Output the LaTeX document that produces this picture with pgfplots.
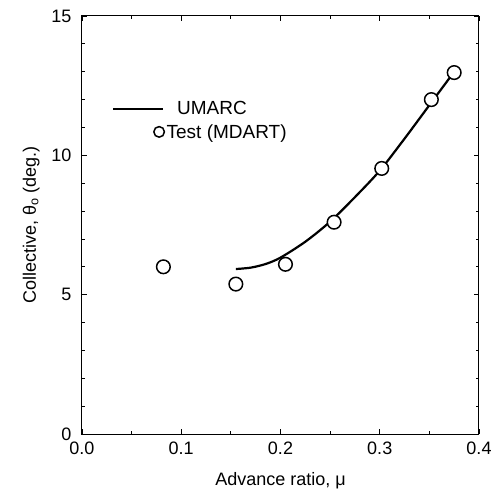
\documentclass[border=0pt]{standalone}
\usepackage{fontspec}
\setmainfont{Liberation Sans}
\usepackage{pgfplots}
\pgfplotsset{compat=1.18}
\usetikzlibrary{calc}

\begin{document}
\begin{tikzpicture}
\begin{axis}[
  scale only axis,
  width=397pt, height=418pt,
  xmin=0, xmax=0.4, ymin=0, ymax=15,
  xtick={0,0.1,0.2,0.3,0.4},
  ytick={0,5,10,15},
  minor x tick num=1,
  minor y tick num=4,
  tick align=inside,
  major tick length=5pt,
  minor tick length=3pt,
  axis line style={line width=1pt},
  every tick/.style={black, line width=0.8pt},
  xticklabel style={/pgf/number format/fixed, /pgf/number format/fixed zerofill,
    /pgf/number format/precision=1, yshift=-4pt},
  yticklabel style={xshift=-7pt},
  /pgf/number format/assume math mode=true,
  tick label style={font=\fontsize{18}{21}\selectfont},
  label style={font=\fontsize{18}{21}\selectfont},
  xlabel={Advance ratio, μ},
  ylabel={Collective, θ\textsubscript{o} (deg.)},
  xlabel style={yshift=-11pt},
  ylabel style={yshift=5pt},
  legend style={draw=none, fill=none, inner sep=0pt, at={(0.0756,0.75)}, anchor=west,
    font=\fontsize{19}{22}\selectfont, row sep=8pt, column sep=0pt,
    nodes={inner xsep=0pt, inner ysep=0pt}},
  legend cell align=left,
]
\addplot[black, line width=2.2pt, smooth, tension=0.5,
  legend image code/.code={\draw[black, line width=1.8pt] (0pt,0pt) -- (50pt,0pt);}]
  coordinates {
  (0.155,5.92) (0.17,5.97) (0.185,6.10) (0.2,6.33) (0.225,6.90)
  (0.25,7.62) (0.275,8.50) (0.3,9.45) (0.325,10.60) (0.35,11.80) (0.375,13.0)
};
\addlegendentry{\hspace{12pt}UMARC}
\addplot[only marks, mark=*, mark size=6.8pt,
  mark options={draw=black, fill=white, line width=1.5pt},
  legend image code/.code={\draw[black, fill=white, line width=1.5pt] (46pt,0pt) circle (5.3pt);}]
  coordinates {
  (0.082,6.0) (0.155,5.38) (0.205,6.09) (0.254,7.60)
  (0.302,9.53) (0.352,12.0) (0.375,12.97)
};
\addlegendentry{\hspace{1.5pt}Test (MDART)}
\coordinate (sw) at (rel axis cs:0,0);
\coordinate (ne) at (rel axis cs:1,1);
\end{axis}
\pgfresetboundingbox
\path ($(sw)+(-82pt,-59pt)$) rectangle ($(ne)+(22pt,16pt)$);
\end{tikzpicture}
\end{document}
